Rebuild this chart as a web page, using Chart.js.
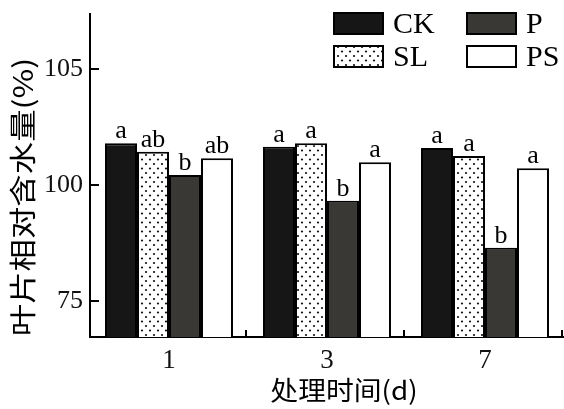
<!DOCTYPE html>
<html>
<head>
<meta charset="utf-8">
<script src="https://cdn.jsdelivr.net/npm/chart.js@4.4.0/dist/chart.umd.min.js"></script>
<style>
html, body { margin: 0; padding: 0; background: #fff; }
canvas { display: block; }
</style>
</head>
<body>
<canvas id="c" width="564" height="409"></canvas>
<script>
// Treatment days (categories)
const days = ['1', '3', '7'];

// Leaf relative water content (%) per treatment
const ckValues = [101.8, 101.65, 101.6];
const slValues = [101.43, 101.8, 101.25];
const pValues  = [100.43, 99.32, 97.3];
const psValues = [101.15, 100.98, 100.72];

// Significance letters shown above each bar
const ckLetters = ['a', 'a', 'a'];
const slLetters = ['ab', 'a', 'a'];
const pLetters  = ['b', 'b', 'b'];
const psLetters = ['ab', 'a', 'a'];

// Y axis ticks
const yTickValues = [95, 100, 105];
const yTickLabels = ['75', '100', '105'];

const seriesNames = ['CK', 'SL', 'P', 'PS'];
const seriesValues = [ckValues, slValues, pValues, psValues];
const seriesLetters = [ckLetters, slLetters, pLetters, psLetters];

const SERIF = '"Liberation Serif", "Times New Roman", serif';
const CJK = '"Noto Sans CJK SC", sans-serif';

// dotted fill used by the SL bars
function makeDots() {
  const t = document.createElement('canvas');
  t.width = 8; t.height = 9;
  const g = t.getContext('2d');
  g.fillStyle = '#fff';
  g.fillRect(0, 0, 8, 9);
  g.fillStyle = '#111';
  [[2, 2], [6, 6.5]].forEach(([x, y]) => {
    g.beginPath(); g.arc(x, y, 1.1, 0, Math.PI * 2); g.fill();
  });
  return document.getElementById('c').getContext('2d').createPattern(t, 'repeat');
}
const dots = makeDots();
const fills = ['#161616', dots, '#3a3834', '#ffffff'];

const datasets = seriesNames.map((name, i) => ({
  label: name,
  data: seriesValues[i],
  backgroundColor: fills[i],
  borderColor: '#000',
  borderWidth: 2,
  borderSkipped: 'start',
  categoryPercentage: 0.81,
  barPercentage: 1.0
}));

const decor = {
  id: 'decor',
  afterDraw(chart) {
    const ctx = chart.ctx;
    const xs = chart.scales.x, ys = chart.scales.y;
    ctx.save();
    ctx.strokeStyle = '#000';
    ctx.lineWidth = 2;

    // inward y ticks
    yTickValues.forEach(v => {
      const y = Math.round(ys.getPixelForValue(v));
      ctx.beginPath(); ctx.moveTo(xs.left, y); ctx.lineTo(xs.left + 9, y); ctx.stroke();
    });
    // inward ticks at category boundaries
    const step = xs.width / days.length;
    for (let i = 1; i <= days.length; i++) {
      const x = Math.round(xs.left + i * step) - 2;
      ctx.beginPath(); ctx.moveTo(x, ys.bottom); ctx.lineTo(x, ys.bottom - 7); ctx.stroke();
    }

    // letters above bars
    ctx.fillStyle = '#000';
    ctx.font = '26px ' + SERIF;
    ctx.textAlign = 'center';
    ctx.textBaseline = 'alphabetic';
    chart.data.datasets.forEach((ds, di) => {
      chart.getDatasetMeta(di).data.forEach((bar, j) => {
        ctx.fillText(seriesLetters[di][j], bar.x, bar.y - 5);
      });
    });

    // legend (two columns)
    ctx.textAlign = 'left';
    ctx.textBaseline = 'middle';
    ctx.font = '30px ' + SERIF;
    seriesNames.forEach((name, i) => {
      const col = Math.floor(i / 2), row = i % 2;
      const bx = 334 + col * 133, by = 13 + row * 33;
      ctx.fillStyle = fills[i];
      ctx.fillRect(bx, by, 49, 21);
      ctx.strokeRect(bx, by, 49, 21);
      ctx.fillStyle = '#000';
      ctx.fillText(name, bx + 59, by + 12);
    });

    // axis titles
    ctx.textAlign = 'center';
    ctx.textBaseline = 'middle';
    ctx.save();
    ctx.translate(23, 197);
    ctx.rotate(-Math.PI / 2);
    ctx.scale(1.2, 1);
    ctx.font = '27px ' + CJK;
    ctx.fillText('叶片相对含水量(%)', 0, 0);
    ctx.restore();

    ctx.save();
    ctx.translate(344, 390);
    ctx.scale(1.07, 1);
    ctx.font = '26px ' + CJK;
    ctx.fillText('处理时间(d)', 0, 0);
    ctx.restore();

    ctx.restore();
  }
};

new Chart(document.getElementById('c'), {
  type: 'bar',
  data: { labels: days, datasets },
  plugins: [decor],
  options: {
    responsive: false,
    animation: false,
    devicePixelRatio: 1,
    layout: { padding: { top: 14, right: 0, left: 0, bottom: 0 } },
    plugins: { legend: { display: false }, tooltip: { enabled: false } },
    scales: {
      x: {
        afterFit: s => { s.height = 72; s.paddingLeft = 0; s.paddingRight = 0; },
        grid: { display: true, drawOnChartArea: false, drawTicks: false },
        border: { display: true, color: '#000', width: 2 },
        ticks: { color: '#111', font: { family: SERIF, size: 27 }, padding: 8 }
      },
      y: {
        min: 93.45,
        max: 107.37,
        afterFit: s => { s.width = 90; s.paddingTop = 0; s.paddingBottom = 0; },
        afterBuildTicks: s => { s.ticks = yTickValues.map(v => ({ value: v })); },
        grid: { display: true, drawOnChartArea: false, drawTicks: false },
        border: { display: true, color: '#000', width: 2 },
        ticks: {
          color: '#111',
          font: { family: SERIF, size: 26 },
          padding: 7,
          callback: v => yTickLabels[yTickValues.indexOf(v)]
        }
      }
    }
  }
});
</script>
</body>
</html>
